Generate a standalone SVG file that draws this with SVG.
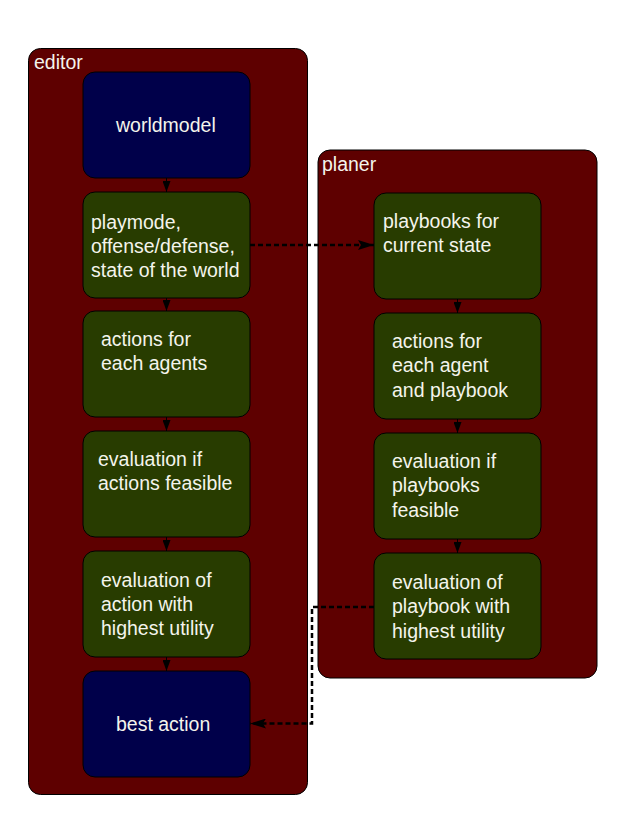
<svg xmlns="http://www.w3.org/2000/svg" width="631" height="835" viewBox="0 0 631 835">
<style>
.container{fill:#5e0000;stroke:#000;stroke-width:1}
.blue{fill:#00004a;stroke:#000;stroke-width:1}
.green{fill:#283c00;stroke:#000;stroke-width:1}
text{font-family:"Liberation Sans",Arial,sans-serif;font-size:19.5px;fill:#f4f4ec}
.solid{stroke:#000;stroke-width:1;fill:none;marker-end:url(#tri)}
.dash{stroke:#000;stroke-width:2.5;fill:none;stroke-dasharray:5 3;marker-end:url(#big)}
</style>
<defs>
<marker id="tri" viewBox="0 0 11 8" refX="11" refY="4" markerWidth="11" markerHeight="8" markerUnits="userSpaceOnUse" orient="auto">
<path d="M0,0 L11,4 L0,8 Z" fill="#000"/>
</marker>
<marker id="big" viewBox="0 0 16 10" refX="16" refY="5" markerWidth="16" markerHeight="10" markerUnits="userSpaceOnUse" orient="auto">
<path d="M0,0 L16,5 L0,10 L3,5 Z" fill="#000"/>
</marker>
</defs>
<g id="editor">
<rect class="container" x="28.5" y="48.5" width="279" height="746" rx="12"/>
<text x="34" y="69">editor</text>
</g>
<g id="planer">
<rect class="container" x="318" y="150" width="279" height="528" rx="12"/>
<text x="322" y="171">planer</text>
</g>
<g id="worldmodel">
<rect class="blue" x="83" y="72" width="167" height="106" rx="12"/>
<text x="116" y="132">worldmodel</text>
</g>
<g id="playmode">
<rect class="green" x="83" y="192" width="167" height="106" rx="12"/>
<text x="91" y="229">playmode,</text>
<text x="91" y="253">offense/defense,</text>
<text x="91" y="277">state of the world</text>
</g>
<g id="actions-editor">
<rect class="green" x="83" y="311" width="167" height="106" rx="12"/>
<text x="101" y="346">actions for</text>
<text x="101" y="370">each agents</text>
</g>
<g id="eval-if-editor">
<rect class="green" x="83" y="431" width="167" height="106" rx="12"/>
<text x="98" y="466">evaluation if</text>
<text x="98" y="490">actions feasible</text>
</g>
<g id="eval-of-editor">
<rect class="green" x="83" y="551" width="167" height="106" rx="12"/>
<text x="101" y="587">evaluation of</text>
<text x="101" y="611">action with</text>
<text x="101" y="635">highest utility</text>
</g>
<g id="best-action">
<rect class="blue" x="83" y="671" width="167" height="106" rx="12"/>
<text x="116" y="731">best action</text>
</g>
<g id="playbooks">
<rect class="green" x="374" y="193" width="167" height="106" rx="12"/>
<text x="383" y="228">playbooks for</text>
<text x="383" y="252">current state</text>
</g>
<g id="actions-planer">
<rect class="green" x="374" y="313" width="167" height="106" rx="12"/>
<text x="392" y="348">actions for</text>
<text x="392" y="372">each agent</text>
<text x="392" y="397">and playbook</text>
</g>
<g id="eval-if-planer">
<rect class="green" x="374" y="433" width="167" height="106" rx="12"/>
<text x="392" y="468">evaluation if</text>
<text x="392" y="492">playbooks</text>
<text x="392" y="517">feasible</text>
</g>
<g id="eval-of-planer">
<rect class="green" x="374" y="553" width="167" height="106" rx="12"/>
<text x="392" y="589">evaluation of</text>
<text x="392" y="613">playbook with</text>
<text x="392" y="638">highest utility</text>
</g>
<g id="connectors">
<path class="solid" d="M166.5,178 V192"/>
<path class="solid" d="M166.5,298 V311"/>
<path class="solid" d="M166.5,417 V431"/>
<path class="solid" d="M166.5,537 V551"/>
<path class="solid" d="M166.5,657 V671"/>
<path class="solid" d="M457.5,299 V313"/>
<path class="solid" d="M457.5,419 V433"/>
<path class="solid" d="M457.5,539 V553"/>
<path class="dash" d="M250,245 H374"/>
<path class="dash" d="M374,607 H312 V723.5 H250"/>
</g>
</svg>
